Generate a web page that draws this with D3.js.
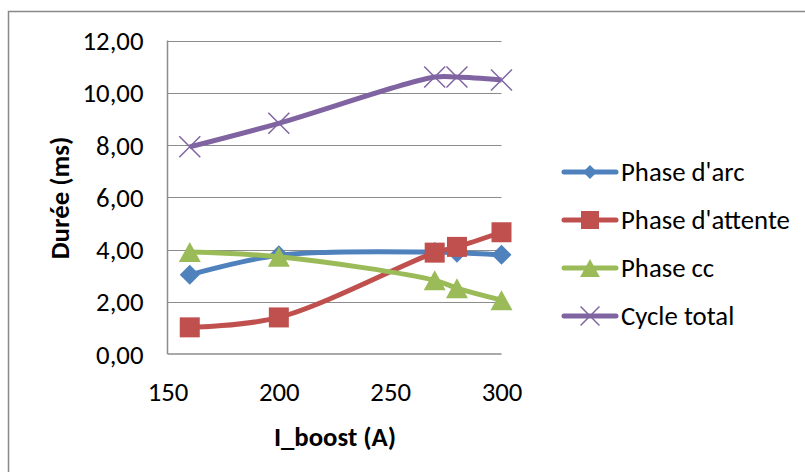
<!DOCTYPE html>
<html><head><meta charset="utf-8">
<script src="https://cdn.jsdelivr.net/npm/d3@7"></script>
<style>body{margin:0;background:#fff}svg{display:block}text{font-family:Carlito,Lato,"Open Sans",sans-serif}</style>
</head><body><svg id="c" width="805" height="472"></svg>
<script>
const xValues = [160, 200, 270, 280, 300];
const seriesNames = ["Phase d'arc", "Phase d'attente", "Phase cc", "Cycle total"];
const phaseArc = [3.03, 3.78, 3.9, 3.88, 3.8];
const phaseAttente = [1.02, 1.4, 3.88, 4.1, 4.66];
const phaseCC = [3.9, 3.72, 2.82, 2.52, 2.06];
const cycleTotal = [7.93, 8.83, 10.6, 10.6, 10.49];
const yTicks = [0, 2, 4, 6, 8, 10, 12];
const xTicks = [150, 200, 250, 300];
const colors = ["#4F81BD", "#C0504D", "#9BBB59", "#8064A2"];
const markers = ["diamond", "square", "triangle", "cross"];
const allSeries = [phaseArc, phaseAttente, phaseCC, cycleTotal];

const svg = d3.select("#c");
// determine font size so that text width matches the reference (Calibri-like metrics)
const probe = svg.append("text").attr("font-size",20).text("Phase d'attente");
const w20 = probe.node().getComputedTextLength();
probe.remove();
const FS = Math.max(18, Math.min(28, 20 * 169 / w20));

svg.append("path").attr("d","M8.5,472 V11.5 H805").attr("fill","none").attr("stroke","#888").attr("stroke-width",1.5);

const x = d3.scaleLinear().domain([150,300]).range([167.5,501.5]);
const y = d3.scaleLinear().domain([0,12]).range([354,40.5]);

svg.append("g").selectAll("line").data(yTicks.slice(1)).join("line")
  .attr("x1",x(150)).attr("x2",x(300)).attr("y1",d=>Math.round(y(d))+0.5).attr("y2",d=>Math.round(y(d))+0.5)
  .attr("stroke","#8c8c8c").attr("stroke-width",1.2);
svg.append("line").attr("x1",x(150)).attr("x2",x(150)).attr("y1",y(12)).attr("y2",y(0)).attr("stroke","#8c8c8c").attr("stroke-width",1.5);
svg.append("line").attr("x1",x(150)).attr("x2",x(300)).attr("y1",y(0)).attr("y2",y(0)).attr("stroke","#8c8c8c").attr("stroke-width",1.5);

const fmt = d => d3.format(".2f")(d).replace(".", ",");
const yAxis = svg.append("g").attr("transform",`translate(${x(150)},0)`)
  .call(d3.axisLeft(y).tickValues(yTicks).tickFormat(fmt).tickSize(0).tickPadding(24));
yAxis.select(".domain").remove();
yAxis.selectAll("text").attr("font-size",FS).attr("fill","#000").attr("font-family",null).attr("dy","0.34em");
const xAxis = svg.append("g").attr("transform",`translate(0,${y(0)})`)
  .call(d3.axisBottom(x).tickValues(xTicks).tickFormat(d3.format("d")).tickSize(0).tickPadding(0));
xAxis.select(".domain").remove();
xAxis.selectAll("text").attr("font-size",FS).attr("fill","#000").attr("font-family",null).attr("y",38).attr("dy",null).attr("dominant-baseline",null)
  .attr("dy","0.34em").attr("y",38);

svg.append("text").attr("x",335).attr("y",437).attr("dy","0.34em").attr("text-anchor","middle").attr("font-size",FS).attr("font-weight","bold").text("I_boost (A)");
svg.append("text").attr("transform","translate(60,198) rotate(-90)").attr("dy","0.34em").attr("text-anchor","middle").attr("font-size",FS).attr("font-weight","bold").text("Durée (ms)");

function drawMarker(g, type, color, cx, cy, s){
  s = s || 1;
  if(type==="diamond"){
    const r = 10*s;
    g.append("path").attr("d",`M${cx},${cy-r} L${cx+r},${cy} L${cx},${cy+r} L${cx-r},${cy} Z`).attr("fill",color);
  } else if(type==="square"){
    const r = 10*s;
    g.append("rect").attr("x",cx-r).attr("y",cy-r).attr("width",2*r).attr("height",2*r).attr("fill",color);
  } else if(type==="triangle"){
    const r = 10*s;
    g.append("path").attr("d",`M${cx},${cy-r} L${cx+r*1.1},${cy+r} L${cx-r*1.1},${cy+r} Z`).attr("fill",color);
  } else {
    const r = 10.5*s;
    g.append("path").attr("d",`M${cx-r},${cy-r} L${cx+r},${cy+r} M${cx+r},${cy-r} L${cx-r},${cy+r}`).attr("stroke",color).attr("stroke-width",1.5);
  }
}

const line = d3.line().x(d=>x(d[0])).y(d=>y(d[1])).curve(d3.curveCatmullRom.alpha(0.5));
allSeries.forEach((vals,i)=>{
  const pts = xValues.map((xv,j)=>[xv, vals[j]]);
  const g = svg.append("g");
  g.append("path").attr("d",line(pts)).attr("fill","none").attr("stroke",colors[i]).attr("stroke-width",5).attr("stroke-linejoin","round");
  pts.forEach(p=>drawMarker(g, markers[i], colors[i], x(p[0]), y(p[1])));
});

const legY = [172, 220, 268, 316];
seriesNames.forEach((n,i)=>{
  const g = svg.append("g");
  g.append("line").attr("x1",564).attr("x2",616).attr("y1",legY[i]).attr("y2",legY[i]).attr("stroke",colors[i]).attr("stroke-width",5).attr("stroke-linecap","round");
  drawMarker(g, markers[i], colors[i], 590, legY[i], i===0?0.7:0.9);
  g.append("text").attr("x",621).attr("y",legY[i]).attr("dy","0.34em").attr("font-size",FS).text(n);
});
</script></body></html>
